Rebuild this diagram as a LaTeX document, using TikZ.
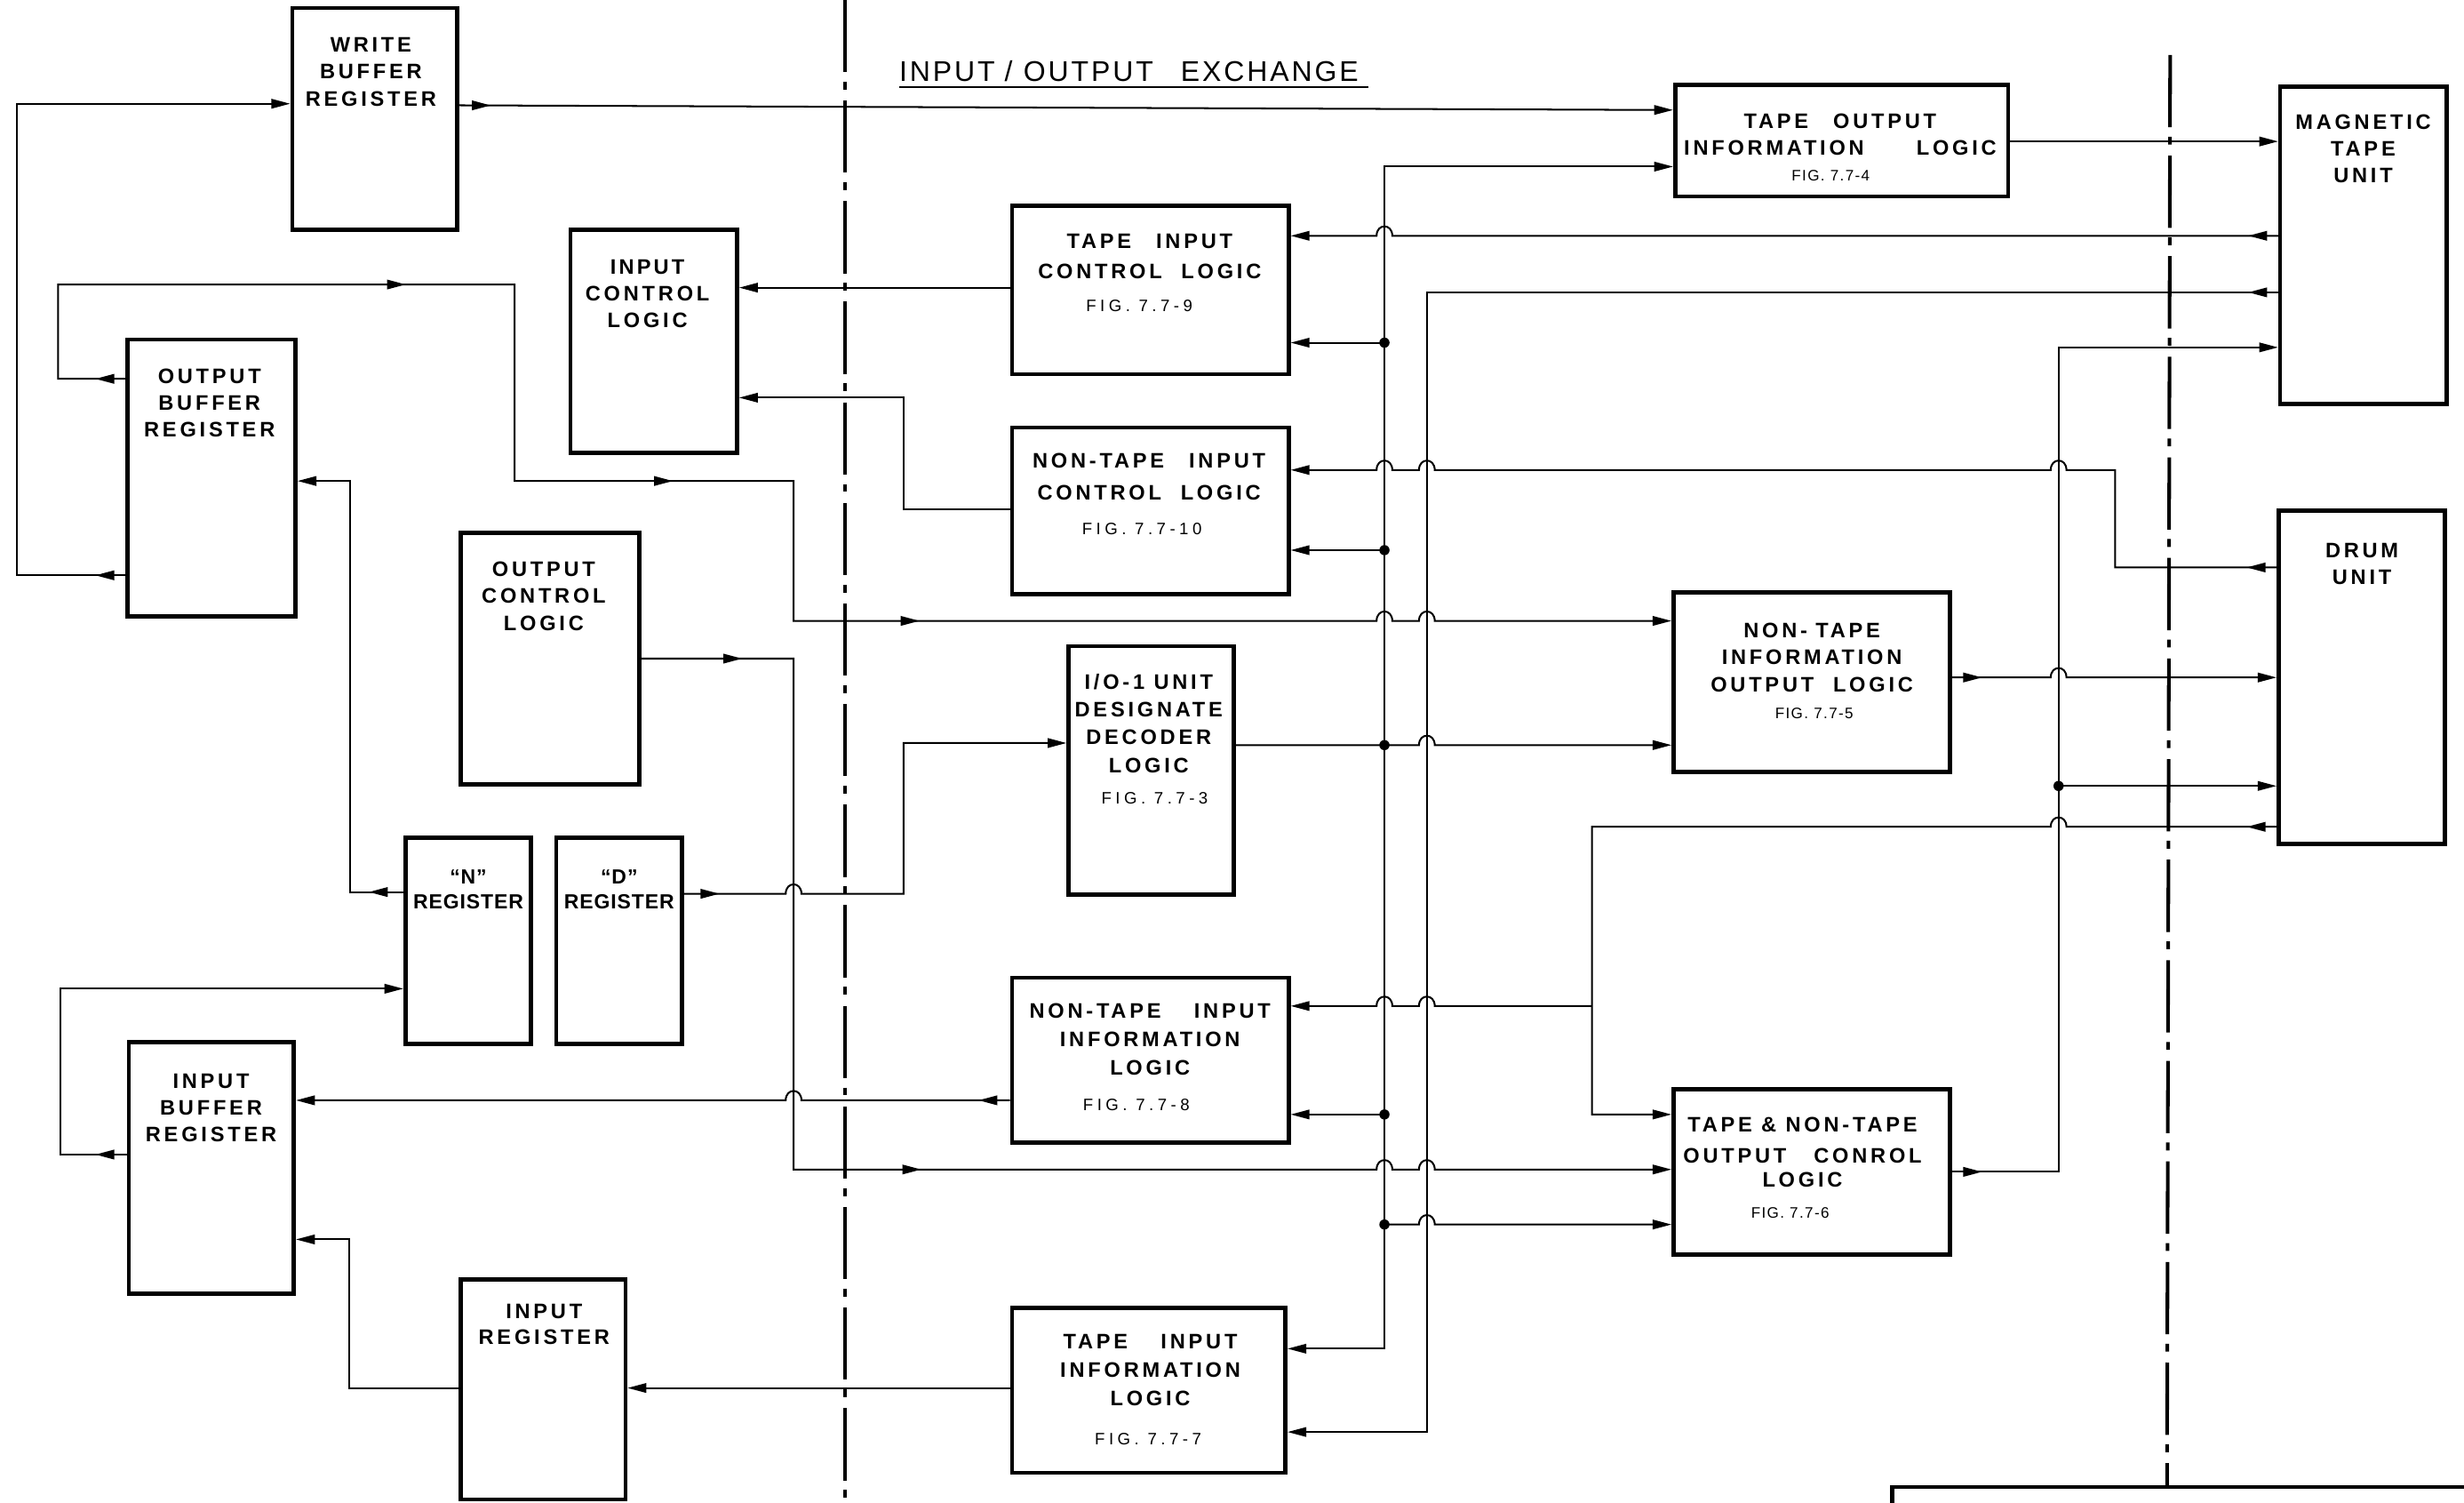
\documentclass[tikz,border=0pt]{standalone}
\usepackage{fontspec}
\setmainfont{Liberation Sans}
\newfontfamily\labfont[LetterSpace=16]{Liberation Sans}
\newfontfamily\labtight[LetterSpace=4]{Liberation Sans}
\newfontfamily\titfont[LetterSpace=9]{Liberation Sans}
\newfontfamily\figw[LetterSpace=24]{Liberation Sans}
\newfontfamily\fign[LetterSpace=8]{Liberation Sans}
\usetikzlibrary{arrows.meta,decorations.markings}
\newcommand\lf[1]{\labfont\bfseries\fontsize{7.6}{#1}\selectfont}
\newcommand\gp[1]{\hspace{#1pt}}
\newcommand\mybox[5]{\node[box, minimum width={(#4-#2)*0.02cm}, minimum height={(#5-#3)*0.02cm}] (#1) at ({(#2+#4)/2},{(#3+#5)/2}) {};}
\tikzset{
  >={Triangle[length=0.24cm,width=0.12cm]},
  box/.style={draw, line width=1.5pt, inner sep=0pt},
  conn/.style={line width=0.65pt},
  arr/.style={conn,->},
  am/.style={postaction={decorate,arrows=-,decoration={markings,mark=at position #1 with {\arrow{>}}}}},
  hopR/.style 2 args={insert path={-- (#1-5,#2) .. controls (#1-5,#2-8) and (#1+5,#2-8) .. (#1+5,#2)}},
  hopL/.style 2 args={insert path={-- (#1+5,#2) .. controls (#1+5,#2-8) and (#1-5,#2-8) .. (#1-5,#2)}},
  lab/.style={font=\lf{9.7}, align=center, inner sep=0pt, anchor=north},
  figw/.style={font=\figw\fontsize{6}{7}\selectfont, inner sep=0pt, anchor=north},
  fign/.style={font=\fign\fontsize{5.5}{6}\selectfont, inner sep=0pt, anchor=north},
  dd/.style={line width=1.3pt, dash pattern=on 0.92cm off 0.12cm on 0.1cm off 0.14cm},
  jdot/.style={radius=0.065cm}
}
\begin{document}
\begin{tikzpicture}[x=0.02cm,y=-0.02cm]
\fill[white] (0,0) rectangle (1568,956);
\useasboundingbox (0,0) rectangle (1568,956);

% boxes
\mybox{wbr}{186}{5}{291}{146}
\mybox{icl}{363}{146}{469}{288}
\mybox{obr}{81}{216}{188}{392}
\mybox{ocl}{293}{339}{407}{499}
\mybox{nreg}{258}{533}{338}{664}
\mybox{dreg}{354}{533}{434}{664}
\mybox{ibr}{82}{663}{187}{823}
\mybox{ireg}{293}{814}{398}{954}
\mybox{ticl}{644}{131}{820}{238}
\mybox{nticl}{644}{272}{820}{378}
\mybox{dec}{680}{411}{785}{569}
\mybox{ntiil}{644}{622}{820}{727}
\mybox{tiil}{644}{832}{818}{937}
\mybox{toil}{1066}{54}{1278}{125}
\mybox{mtu}{1451}{55}{1557}{257}
\mybox{drum}{1450}{325}{1556}{537}
\mybox{ntiol}{1065}{377}{1241}{491}
\mybox{tnocl}{1065}{693}{1241}{798}
\draw[line width=1.5pt] (1204,958) -- (1204,946) -- (1570,946);

% dash-dot boundaries
\draw[dd] (538,0) -- (538,956);
\draw[dd] (1381,35) -- (1379,946);

% title
\node[font=\titfont\fontsize{10.3}{12}\selectfont, anchor=base west, inner sep=0pt] (title) at (572,52) {INPUT\gp{3.5}/\gp{4}OUTPUT\gp{10}EXCHANGE};
\draw[line width=0.8pt] (572,55.5) -- (870.6,55.5);

% labels
\node[lab, font=\lf{9.8}] at (236,23.4) {WRITE\\BUFFER\\REGISTER};
\node[lab, font=\lf{9.6}] at (412,165) {I\gp{1}N\gp{1}P\gp{1}U\gp{1}T\\CONTROL\\LOGIC};
\node[lab, font=\lf{9.6}] at (133.3,234.5) {OUTPUT\\BUFFER\\REGISTER};
\node[lab, font=\lf{9.8}] at (346,357) {OUTPUT\\CONTROL\\LOGIC};
\node[lab, font=\labtight\bfseries\fontsize{7.4}{9.1}\selectfont, anchor=south] at (298,578.8) {“N”\\REGISTER};
\node[lab, font=\labtight\bfseries\fontsize{7.4}{9.1}\selectfont, anchor=south] at (394,578.8) {“D”\\REGISTER};
\node[lab, font=\lf{9.7}] at (134.3,682.7) {INPUT\\BUFFER\\REGISTER};
\node[lab, font=\lf{9.3}] at (346.2,829.3) {INPUT\\REGISTER};
\node[lab, font=\lf{11.1}] at (731.6,148.5) {TAPE\gp{9}INPUT\\CONTROL\gp{7}LOGIC};
\node[figw] at (725,190.4) {FIG. 7.7-9};
\node[lab, font=\lf{11.5}] at (731.2,288.3) {NON-TAPE\gp{9}INPUT\\CONTROL\gp{7}LOGIC};
\node[figw] at (726.7,332.4) {FIG. 7.7-10};
\node[lab, font=\lf{10.1}] at (731,428.3) {I/O-1 UNIT\\DESIGNATE\\DECODER\\LOGIC};
\node[figw] at (734.8,503.7) {FIG. 7.7-3};
\node[lab, font=\lf{10.4}] at (731.8,637.9) {NON-TAPE\gp{12}INPUT\\INFORMATION\\LOGIC};
\node[figw] at (723.1,698.8) {FIG. 7.7-8};
\node[lab, font=\lf{10.4}] at (732,848.3) {TAPE\gp{12}INPUT\\INFORMATION\\LOGIC};
\node[figw] at (730.6,911.3) {FIG. 7.7-7};
\node[lab, font=\lf{9.8}] at (1171,71.9) {TAPE\gp{9}OUTPUT\\INFORMATION\gp{19}LOGIC};
\node[fign] at (1165,107.8) {FIG. 7.7-4};
\node[lab, font=\lf{9.6}] at (1503.8,72.7) {MAGNETIC\\TAPE\\UNIT};
\node[lab, font=\lf{9.6}] at (1503,345.4) {DRUM\\UNIT};
\node[lab, font=\lf{9.8}] at (1153,396) {NON-\gp{3}TAPE\\INFORMATION\\OUTPUT\gp{7}LOGIC};
\node[fign] at (1154.5,450.1) {FIG. 7.7-5};
\node[lab, font=\lf{10.2}] at (1147,710.6) {TAPE \& NON-TAPE\\[1pt]OUTPUT\gp{10}CONROL\\[-1.5pt]LOGIC};
\node[fign] at (1139.2,768) {FIG. 7.7-6};

% bus junctions
\coordinate (j218) at (881,218);
\coordinate (j350) at (881,350);
\coordinate (j474) at (881,474);
\coordinate (j709) at (881,709);
\coordinate (j779) at (881,779);
\coordinate (k500) at (1310,500);
\coordinate (k640) at (1013,640);

% connectors
\draw[arr, am=0.38cm] (obr.west |- 0,366) -- (11,366) -- (11,66) -- (wbr.west |- 0,66);
\draw[arr, am=0.4cm] (wbr.east |- 0,67) -- (toil.west |- 0,70);
\draw[arr] (toil.east |- 0,90) -- (mtu.west |- 0,90);
\draw[arr, am=0.38cm] (mtu.west |- 0,150) [hopL={881}{150}] -- (ticl.east |- 0,150);
\draw[arr, am=0.38cm] (mtu.west |- 0,186) -- (908,186) -- (908,911) -- (tiil.east |- 0,911);
\draw[arr] (ticl.west |- 0,183) -- (icl.east |- 0,183);
\draw[arr] (nticl.west |- 0,324) -- (575,324) -- (575,253) -- (icl.east |- 0,253);
\draw[arr, am=0.38cm] (drum.west |- 0,361) -- (1346,361) -- (1346,299) [hopL={1310}{299}] [hopL={908}{299}] [hopL={881}{299}] -- (nticl.east |- 0,299);
\draw[arr, am=0.38cm, am=6.48cm, am=12.38cm, am=17.3cm] (obr.west |- 0,241) -- (37,241) -- (37,181) -- (327.5,181) -- (327.5,306) -- (505,306) -- (505,395) [hopR={881}{395}] [hopR={908}{395}] -- (ntiol.west |- 0,395);
\draw[arr, am=0.44cm] (nreg.west |- 0,567.5) -- (222.6,567.5) -- (222.6,306) -- (obr.east |- 0,306);
\draw[arr, am=0.4cm] (ibr.west |- 0,734.5) -- (38.4,734.5) -- (38.4,629) -- (nreg.west |- 0,629);
\draw[arr, am=1.28cm, am=10.06cm] (ocl.east |- 0,419) -- (505,419) -- (505,744) [hopR={881}{744}] [hopR={908}{744}] -- (tnocl.west |- 0,744);
\draw[arr, am=0.45cm] (dreg.east |- 0,568.6) [hopR={505}{568.6}] -- (575,568.6) -- (575,472.7) -- (dec.west |- 0,472.7);
\draw[arr, am=0.4cm] (ntiil.west |- 0,700) [hopL={505}{700}] -- (ibr.east |- 0,700);
\draw[arr] (ireg.west |- 0,883) -- (222.3,883) -- (222.3,788.5) -- (ibr.east |- 0,788.5);
\draw[arr] (tiil.west |- 0,883) -- (ireg.east |- 0,883);
\draw[arr] (dec.east |- j474) -- (j474) [hopR={908}{474}] -- (ntiol.west |- j474);
\draw[arr] (j474) -- (881,106) -- (toil.west |- 0,106);
\draw[arr] (j474) -- (881,858) -- (tiil.east |- 0,858);
\draw[arr] (j218) -- (ticl.east |- j218);
\draw[arr] (j350) -- (nticl.east |- j350);
\draw[arr] (j709) -- (ntiil.east |- j709);
\draw[arr] (j779) [hopR={908}{779}] -- (tnocl.west |- j779);
\draw[arr, am=0.38cm] (ntiol.east |- 0,431) [hopR={1310}{431}] -- (drum.west |- 0,431);
\draw[arr, am=0.38cm] (drum.west |- 0,526) [hopL={1310}{526}] -- (1013,526) -- (1013,709) -- (tnocl.west |- 0,709);
\draw[arr] (k640) [hopL={908}{640}] [hopL={881}{640}] -- (ntiil.east |- k640);
\draw[arr, am=0.38cm] (tnocl.east |- 0,745.5) -- (1310,745.5) -- (1310,221) -- (mtu.west |- 0,221);
\draw[arr] (k500) -- (drum.west |- k500);

% junction dots
\foreach \j in {j218,j350,j474,j709,j779,k500} \fill (\j) circle[jdot];
\end{tikzpicture}
\end{document}
